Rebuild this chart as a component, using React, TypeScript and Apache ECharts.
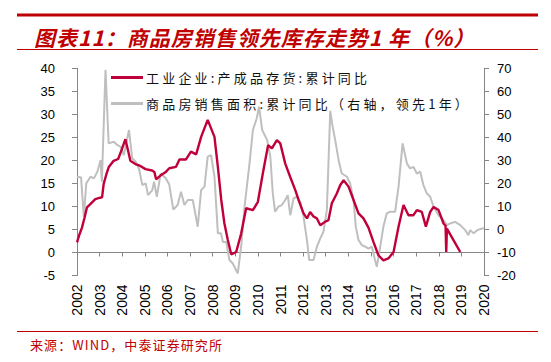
import React, { useEffect, useRef } from "react";
import * as echarts from "echarts";

const titleText = "图表11：商品房销售领先库存走势1 年（%）";
const sourceText = "来源：WIND，中泰证券研究所";
const seriesNames = ["工业企业:产成品存货:累计同比", "商品房销售面积:累计同比（右轴，领先1年）"];
const yearRange = [2002, 2020];
const leftAxisRange = [-5, 40, 5];
const rightAxisRange = [-20, 70, 10];

// [decimal year, %]
const inventoryYoY: [number, number][] = [
  [2002.0, 2.2], [2002.1, 3.8], [2002.22, 5.4], [2002.33, 7.5], [2002.44, 9.8], [2002.59, 10.5],
  [2002.81, 11.6], [2002.95, 11.8], [2003.11, 12.0], [2003.18, 14.9], [2003.3, 17.0], [2003.4, 18.5],
  [2003.62, 19.9], [2003.82, 20.3], [2003.99, 22.5], [2004.14, 24.6], [2004.26, 22.1], [2004.36, 19.9],
  [2004.58, 19.2], [2004.8, 18.8], [2005.03, 18.1], [2005.32, 17.8], [2005.42, 17.5], [2005.5, 15.9],
  [2005.69, 16.7], [2005.91, 17.4], [2006.08, 18.3], [2006.38, 18.6], [2006.53, 20.2], [2006.82, 20.2],
  [2007.04, 21.9], [2007.27, 21.3], [2007.49, 25.1], [2007.78, 28.8], [2008.08, 25.1], [2008.23, 18.6],
  [2008.38, 11.4], [2008.52, 6.3], [2008.67, 2.7], [2008.82, -0.4], [2009.04, 0.1], [2009.26, 4.1],
  [2009.48, 9.6], [2009.78, 9.2], [2010.0, 11.0], [2010.22, 17.2], [2010.45, 23.3], [2010.62, 22.6],
  [2010.84, 24.4], [2010.99, 23.7], [2011.21, 19.3], [2011.43, 16.4], [2011.65, 13.6], [2011.8, 11.4],
  [2012.02, 8.5], [2012.17, 7.4], [2012.31, 8.8], [2012.46, 7.8], [2012.61, 7.4], [2012.76, 5.9],
  [2012.98, 6.7], [2013.12, 7.0], [2013.27, 10.7], [2013.49, 12.8], [2013.64, 14.6], [2013.79, 15.7],
  [2014.01, 14.3], [2014.23, 11.4], [2014.45, 8.5], [2014.67, 7.4], [2014.89, 5.4], [2015.11, 2.3],
  [2015.33, -0.6], [2015.55, -1.7], [2015.77, -1.3], [2016.0, 0.1], [2016.22, 5.6], [2016.44, 10.3],
  [2016.66, 8.1], [2016.88, 8.1], [2017.03, 9.2], [2017.25, 8.8], [2017.43, 5.6], [2017.62, 8.8],
  [2017.77, 9.9], [2017.99, 9.2], [2018.21, 6.3], [2018.3, 5.8], [2018.33, 0.1], [2018.36, 5.2],
  [2018.65, 2.7], [2018.95, 0.1],
];

const salesAreaYoYLead: [number, number][] = [
  [2002.0, 22.9], [2002.18, 22.6], [2002.3, 5.5], [2002.41, 20.0], [2002.6, 22.9], [2002.75, 22.2],
  [2002.9, 25.1], [2003.04, 30.1], [2003.1, 20.7], [2003.26, 69.3], [2003.4, 37.4], [2003.63, 38.1],
  [2003.78, 36.7], [2003.93, 35.9], [2004.07, 32.3], [2004.3, 43.2], [2004.44, 30.9], [2004.6, 29.4],
  [2004.74, 26.5], [2004.89, 19.3], [2005.04, 20.0], [2005.14, 14.9], [2005.33, 17.1], [2005.41, 20.7],
  [2005.53, 14.2], [2005.7, 24.3], [2005.93, 22.2], [2006.08, 19.5], [2006.26, 8.6], [2006.45, 10.6],
  [2006.6, 16.4], [2006.75, 10.6], [2006.9, 12.8], [2007.12, 12.8], [2007.34, 1.2], [2007.49, 17.1],
  [2007.64, 18.6], [2007.78, 31.6], [2007.93, 32.3], [2008.08, 22.9], [2008.23, -1.7], [2008.37, -1.7],
  [2008.45, -5.4], [2008.6, -5.4], [2008.74, -13.3], [2008.89, -14.8], [2009.11, -19.1], [2009.26, -7.5],
  [2009.41, 9.9], [2009.63, 28.7], [2009.78, 43.2], [2009.95, 48.3], [2010.05, 53.3], [2010.19, 43.2],
  [2010.41, 38.8], [2010.55, 31.6], [2010.66, 15.7], [2010.76, 7.7], [2010.91, 9.9], [2011.06, 10.6],
  [2011.21, 12.8], [2011.32, 14.9], [2011.43, 6.2], [2011.58, 13.5], [2011.72, 14.2], [2011.87, 12.0],
  [2012.02, 5.5], [2012.17, -4.6], [2012.27, -13.3], [2012.46, -13.3], [2012.61, -7.5], [2012.76, -3.9],
  [2012.9, -1.0], [2013.05, 8.4], [2013.2, 51.5], [2013.3, 45.0], [2013.42, 38.8], [2013.57, 30.1],
  [2013.71, 24.3], [2013.94, 22.9], [2014.08, 20.0], [2014.23, 12.8], [2014.33, 1.2], [2014.45, -4.6],
  [2014.6, -6.8], [2014.75, -7.5], [2014.89, -8.3], [2015.04, -7.5], [2015.18, -13.3], [2015.26, -16.2],
  [2015.41, -7.5], [2015.55, 1.2], [2015.7, 7.0], [2015.85, 7.7], [2016.07, 7.7], [2016.22, 18.6],
  [2016.4, 37.4], [2016.59, 28.7], [2016.73, 26.5], [2016.88, 27.2], [2017.03, 24.3], [2017.18, 25.1],
  [2017.32, 19.3], [2017.47, 15.7], [2017.62, 14.2], [2017.77, 9.9], [2017.99, 6.2], [2018.21, 4.1],
  [2018.36, 1.9], [2018.5, 2.6], [2018.72, 3.3], [2018.95, 1.9], [2019.17, -0.3], [2019.31, -2.5],
  [2019.39, -0.3], [2019.54, -1.7], [2019.7, -0.3], [2019.92, 0.4], [2020.0, 0.4],
];

const RED = "#C0003A";
const GRAY = "#BFBFBF";
const DARK_RED = "#C00000";
const TITLE_RED = "#C00001";
const SOURCE_RED = "#C00002";
const AXIS = "#868686";
const CJK = "'Noto Sans CJK SC', sans-serif";
const NUM = "'Liberation Sans', Arial, sans-serif";
const LEGEND_TEXT = "#111111";

const spacingCss = [
  `text[fill="#111111"],text[fill="#111"]{letter-spacing:3.2px}`,
  `text[fill="#C00001"],text[fill="#c00001"]{letter-spacing:1px}`,
  `text[fill="#C00002"],text[fill="#c00002"]{letter-spacing:1.1px}`,
].join("");

export default function App() {
  const ref = useRef<HTMLDivElement>(null);

  useEffect(() => {
    if (!ref.current) return;
    const chart = echarts.init(ref.current, null, { renderer: "svg" });
    const yLabel = { fontSize: 13, color: "#000", fontFamily: NUM };
    chart.setOption({
      animation: false,
      backgroundColor: "#fff",
      title: {
        text: titleText,
        left: 29,
        top: 21,
        textStyle: { fontFamily: CJK, fontSize: 21, fontWeight: "bold", fontStyle: "italic", color: TITLE_RED },
      },
      legend: {
        orient: "vertical",
        left: 106,
        top: 66,
        itemWidth: 32,
        itemHeight: 3,
        itemGap: 13,
        icon: "rect",
        data: seriesNames,
        textStyle: { fontFamily: CJK, fontSize: 13, color: LEGEND_TEXT, padding: [0, 0, 0, -2] },
      },
      grid: { left: 77, right: 67, top: 68.3, bottom: 86.5 },
      xAxis: [
        {
          type: "value",
          position: "bottom",
          min: yearRange[0],
          max: yearRange[1],
          interval: 1,
          axisLine: { show: true, onZero: true, lineStyle: { color: AXIS, width: 1 } },
          axisTick: { show: true, length: 4, lineStyle: { color: AXIS } },
          axisLabel: { show: false },
          splitLine: { show: false },
        },
        {
          type: "value",
          position: "bottom",
          min: yearRange[0],
          max: yearRange[1],
          interval: 1,
          axisLine: { show: false, onZero: false },
          axisTick: { show: false },
          axisLabel: {
            rotate: 90,
            margin: 9,
            fontSize: 14,
            color: "#000",
            fontFamily: NUM,
            formatter: (v: number) => String(v),
          },
          splitLine: { show: false },
        },
      ],
      yAxis: [
        {
          type: "value",
          position: "left",
          min: leftAxisRange[0],
          max: leftAxisRange[1],
          interval: leftAxisRange[2],
          axisLine: { show: true, onZero: false, lineStyle: { color: AXIS, width: 1 } },
          axisTick: { show: true, length: 5, lineStyle: { color: AXIS } },
          axisLabel: { ...yLabel, margin: 22 },
          splitLine: { show: false },
        },
        {
          type: "value",
          position: "right",
          min: rightAxisRange[0],
          max: rightAxisRange[1],
          interval: rightAxisRange[2],
          axisLine: { show: true, onZero: false, lineStyle: { color: AXIS, width: 1 } },
          axisTick: { show: true, length: 5, lineStyle: { color: AXIS } },
          axisLabel: { ...yLabel, margin: 13 },
          splitLine: { show: false },
        },
      ],
      series: [
        {
          name: seriesNames[1],
          type: "line",
          xAxisIndex: 0,
          yAxisIndex: 1,
          data: salesAreaYoYLead,
          showSymbol: false,
          symbol: "none",
          lineStyle: { color: GRAY, width: 2 },
          itemStyle: { color: GRAY },
          z: 2,
        },
        {
          name: seriesNames[0],
          type: "line",
          xAxisIndex: 0,
          yAxisIndex: 0,
          data: inventoryYoY,
          showSymbol: false,
          symbol: "none",
          lineStyle: { color: RED, width: 2.4 },
          itemStyle: { color: RED },
          z: 3,
        },
      ],
      graphic: [
        { type: "line", shape: { x1: 17, y1: 15, x2: 538, y2: 15 }, style: { stroke: DARK_RED, lineWidth: 3 } },
        { type: "line", shape: { x1: 17, y1: 49.5, x2: 538, y2: 49.5 }, style: { stroke: DARK_RED, lineWidth: 1 } },
        { type: "line", shape: { x1: 17, y1: 331.5, x2: 538, y2: 331.5 }, style: { stroke: DARK_RED, lineWidth: 1 } },
        {
          type: "text",
          left: 30,
          top: 338,
          style: { text: sourceText, fontSize: 13, fill: SOURCE_RED, fontFamily: CJK },
        },
      ],
    });
    return () => chart.dispose();
  }, []);

  return (
    <>
      <style>{spacingCss}</style>
      <div
        ref={ref}
        style={{ position: "fixed", left: 0, top: 0, width: 551, height: 362, background: "#fff" }}
      />
    </>
  );
}
